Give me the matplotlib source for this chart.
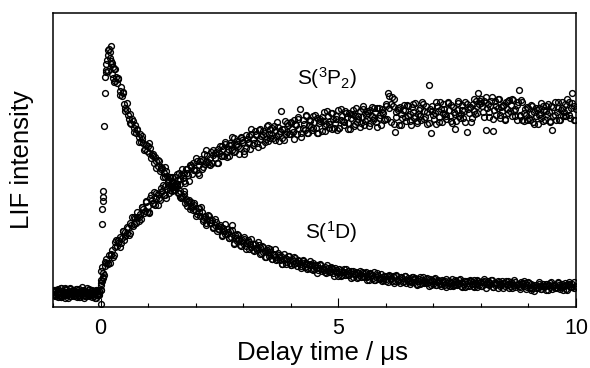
import numpy as np
import matplotlib.pyplot as plt

plt.rcParams['font.family'] = ['Liberation Sans', 'DejaVu Sans']
plt.rcParams['mathtext.fontset'] = 'custom'
plt.rcParams['mathtext.rm'] = 'Liberation Sans'
plt.rcParams['mathtext.default'] = 'regular'

# delay time grid in microseconds (-1 ... 10, step 0.025)
t = np.round(np.arange(441) * 0.025 - 1.0, 3)
# second scan, shifted by half a step (-0.9875 ... 9.9625, step 0.05)
t2 = np.round(np.arange(220) * 0.05 - 0.9875, 4)

# LIF signal of S(1D), arbitrary units
s1d = [
    15, 12, 17, 13, 10, 16, 14, 19, 11, 13, 15, 18, 12, 9, 14, 16, 13, 17, 11, 15,
    14, 12, 18, 10, 13, 16, 15, 11, 14, 19, 12, 13, 16, 10, 15, 14, 17, 12, 13, 16,
    17, 83, 106, 181, 230, 243, 252, 258, 249, 261, 244, 238, 238, 230, 224, 228, 216, 220, 211, 214,
    203, 199, 204, 192, 188, 193, 183, 186, 179, 182, 174, 177, 170, 173, 165, 168, 164, 158, 162, 156,
    161, 154, 159, 152, 151, 144, 150, 146, 141, 146, 136, 138, 139, 134, 130, 136, 131, 125, 130, 120,
    124, 124, 117, 120, 123, 114, 114, 116, 109, 111, 113, 104, 108, 105, 106, 98, 105, 101, 97, 102,
    96, 93, 99, 95, 91, 95, 86, 90, 91, 84, 88, 91, 84, 84, 87, 80, 82, 85, 76, 81,
    78, 80, 72, 79, 76, 73, 78, 75, 69, 76, 70, 82, 64, 72, 69, 66, 72, 62, 66, 67,
    64, 68, 61, 64, 67, 58, 63, 60, 63, 56, 63, 59, 57, 62, 60, 54, 61, 55, 56, 50,
    57, 55, 51, 58, 48, 52, 53, 50, 47, 54, 50, 47, 51, 43, 47, 49, 43, 48, 51, 44,
    42, 48, 46, 43, 49, 41, 44, 46, 43, 41, 46, 44, 40, 44, 38, 42, 43, 38, 42, 44,
    38, 39, 42, 37, 39, 42, 36, 39, 37, 40, 34, 39, 37, 35, 40, 38, 34, 39, 35, 35,
    31, 35, 37, 32, 35, 38, 32, 33, 36, 32, 34, 36, 30, 34, 32, 35, 29, 34, 32, 30,
    35, 34, 30, 35, 30, 31, 27, 33, 32, 29, 35, 27, 30, 32, 29, 28, 33, 30, 27, 31,
    28, 31, 25, 31, 29, 26, 31, 30, 26, 31, 27, 28, 24, 30, 29, 26, 31, 24, 27, 29,
    26, 25, 30, 28, 25, 29, 22, 26, 28, 23, 27, 30, 24, 25, 28, 24, 25, 28, 22, 26,
    23, 29, 22, 25, 27, 24, 23, 27, 25, 22, 26, 20, 24, 26, 21, 25, 28, 22, 23, 26,
    22, 24, 27, 21, 25, 23, 26, 20, 26, 24, 21, 27, 26, 21, 27, 23, 24, 20, 26, 25,
    25, 21, 25, 28, 23, 23, 26, 22, 24, 27, 20, 24, 22, 24, 19, 25, 23, 22, 26, 24,
    21, 26, 22, 23, 19, 25, 24, 22, 27, 20, 22, 23, 21, 20, 25, 23, 21, 24, 18, 22,
    25, 19, 23, 19, 21, 16, 22, 20, 19, 23, 21, 18, 23, 20, 21, 17, 23, 22, 20, 25,
    18, 21, 22, 20, 19, 24, 22, 20, 23, 17, 21, 22, 18, 22, 25, 20, 20, 23, 19, 21,
    21]

s1d_2 = [
    17, 11, 14, 19, 12, 9, 15, 18, 13, 16, 10, 14, 20, 12, 15, 11, 17, 13, 9, 16,
    22, 110, 235, 257, 246, 240, 226, 229, 212, 215, 196, 197, 184, 188, 175, 178, 165, 171, 157, 162,
    164, 149, 153, 139, 147, 140, 130, 140, 126, 130, 116, 122, 123, 110, 110, 116, 101, 107, 100, 104,
    91, 99, 100, 88, 82, 92, 87, 79, 88, 78, 82, 71, 83, 73, 69, 77, 63, 73, 68, 61,
    70, 58, 65, 68, 57, 59, 65, 53, 60, 50, 59, 55, 48, 58, 48, 52, 43, 53, 45, 51,
    42, 50, 44, 47, 39, 47, 43, 39, 46, 37, 42, 34, 43, 38, 35, 42, 35, 39, 31, 37,
    38, 31, 35, 38, 32, 29, 36, 33, 30, 36, 31, 34, 27, 34, 32, 27, 34, 28, 26, 31,
    26, 32, 28, 24, 32, 26, 30, 25, 31, 26, 23, 30, 28, 23, 30, 24, 26, 29, 21, 27,
    28, 22, 26, 21, 26, 28, 22, 24, 21, 27, 23, 28, 20, 26, 21, 26, 23, 20, 27, 22,
    21, 26, 19, 24, 27, 20, 23, 26, 21, 19, 24, 26, 21, 19, 25, 22, 18, 24, 26, 20,
    24, 17, 22, 19, 25, 18, 21, 23, 17, 24, 22, 19, 25, 18, 21, 24, 17, 23, 20, 25]

# LIF signal of S(3P2)
s3p = [
    13, 16, 11, 14, 18, 12, 15, 10, 16, 14, 12, 17, 15, 13, 19, 11, 14, 16, 12, 18,
    13, 15, 10, 16, 14, 17, 12, 15, 11, 13, 18, 14, 12, 16, 13, 9, 15, 17, 14, 12,
    17, 26, 29, 32, 45, 44, 44, 52, 44, 52, 57, 52, 60, 67, 61, 64, 70, 64, 69, 76,
    67, 75, 74, 79, 72, 84, 82, 81, 90, 89, 84, 95, 90, 93, 88, 100, 98, 96, 105, 95,
    101, 94, 109, 107, 103, 115, 102, 109, 113, 109, 107, 119, 116, 112, 121, 109, 118, 122, 114, 123,
    130, 120, 122, 130, 121, 127, 134, 123, 132, 129, 134, 124, 138, 134, 132, 142, 140, 133, 144, 137,
    137, 146, 134, 142, 146, 138, 147, 153, 143, 145, 152, 143, 149, 155, 144, 152, 149, 155, 144, 158,
    154, 151, 161, 158, 151, 163, 155, 158, 151, 164, 162, 157, 169, 156, 162, 166, 161, 159, 170, 167,
    165, 153, 159, 168, 164, 171, 158, 173, 168, 164, 176, 173, 164, 177, 168, 171, 162, 176, 174, 168,
    181, 166, 173, 178, 172, 169, 181, 177, 171, 180, 166, 176, 196, 169, 178, 186, 173, 175, 182, 173,
    184, 178, 175, 187, 183, 173, 188, 178, 198, 170, 187, 183, 177, 191, 174, 182, 186, 180, 177, 191,
    185, 179, 189, 174, 184, 188, 176, 186, 195, 181, 183, 191, 179, 186, 194, 178, 188, 184, 191, 177,
    197, 179, 187, 191, 186, 182, 196, 190, 184, 194, 178, 189, 193, 181, 191, 199, 185, 188, 196, 184,
    190, 198, 182, 192, 188, 194, 181, 197, 191, 187, 199, 195, 185, 199, 189, 192, 182, 198, 194, 188,
    203, 188, 214, 199, 185, 210, 201, 183, 175, 190, 197, 182, 200, 193, 189, 202, 197, 186, 202, 191,
    193, 182, 200, 195, 189, 204, 184, 193, 197, 191, 187, 203, 196, 190, 201, 183, 222, 198, 174, 196,
    192, 194, 183, 201, 196, 190, 205, 185, 194, 198, 193, 188, 204, 197, 191, 202, 184, 195, 178, 186,
    197, 206, 191, 193, 202, 189, 196, 205, 175, 198, 194, 200, 185, 203, 196, 193, 206, 201, 214, 206,
    208, 201, 195, 206, 177, 199, 203, 190, 201, 210, 176, 197, 206, 192, 199, 208, 189, 200, 196, 202,
    187, 205, 198, 194, 207, 202, 191, 207, 196, 198, 187, 205, 217, 192, 207, 187, 194, 198, 192, 187,
    199, 187, 193, 201, 185, 195, 191, 197, 183, 199, 193, 189, 201, 197, 187, 201, 193, 195, 185, 201,
    177, 191, 205, 187, 195, 199, 187, 197, 205, 191, 195, 203, 191, 197, 205, 189, 199, 214, 201, 187,
    198]

s3p_2 = [
    12, 17, 15, 10, 14, 19, 13, 11, 16, 14, 18, 12, 15, 9, 13, 17, 14, 11, 16, 13,
    24, 30, 48, 43, 53, 50, 65, 67, 60, 76, 71, 80, 74, 90, 83, 90, 86, 100, 94, 106,
    95, 112, 104, 114, 102, 115, 122, 112, 128, 117, 126, 117, 133, 128, 138, 126, 138, 126, 142, 137,
    149, 132, 148, 140, 157, 145, 142, 157, 154, 144, 161, 151, 165, 150, 162, 170, 155, 163, 153, 169,
    156, 172, 165, 178, 162, 172, 160, 178, 172, 165, 182, 169, 179, 167, 185, 173, 178, 167, 184, 173,
    185, 168, 182, 190, 174, 179, 192, 174, 187, 179, 192, 174, 186, 190, 176, 196, 183, 194, 179, 188,
    179, 198, 185, 194, 178, 193, 197, 183, 191, 180, 201, 186, 196, 184, 200, 189, 180, 199, 195, 187,
    201, 211, 203, 208, 195, 199, 182, 197, 190, 201, 186, 203, 191, 186, 199, 205, 188, 195, 184, 201,
    188, 205, 185, 198, 203, 191, 205, 186, 200, 193, 204, 189, 197, 185, 203, 200, 189, 208, 194, 203,
    204, 190, 210, 195, 206, 188, 201, 208, 192, 201, 188, 206, 196, 208, 191, 202, 191, 205, 186, 200,
    189, 202, 183, 199, 192, 204, 186, 196, 203, 186, 200, 192, 205, 187, 199, 191, 208, 192, 204, 187]

# extra shots around the photolysis pulse
s1d_extra_t = [0.0, 0.04, 0.045, 0.085, 0.11, 0.135, 0.16, 0.19, 0.21, 0.24, 0.265, 0.29]
s1d_extra_y = [3, 98, 116, 214, 237, 247, 236, 255, 243, 233, 229, 225]
s3p_extra_t = [0.005, 0.015, 0.035, 0.06, 0.09]
s3p_extra_y = [27, 36, 40, 34, 41]

fig = plt.figure(figsize=(5.9, 3.68), dpi=100)
ax = fig.add_axes([0.0898, 0.1658, 0.8864, 0.7989])

mk = dict(ls='none', marker='o', ms=4.2, mfc='none', mec='black', mew=1.0)
ax.plot(t, s1d, **mk)
ax.plot(t2, s1d_2, **mk)
ax.plot(s1d_extra_t, s1d_extra_y, **mk)
ax.plot(t, s3p, **mk)
ax.plot(t2, s3p_2, **mk)
ax.plot(s3p_extra_t, s3p_extra_y, **mk)

ax.text(4.14, 222, 'S($^3$P$_2$)', fontsize=15)
ax.text(4.3, 68, 'S($^1$D)', fontsize=15)

ax.set_xlim(-1, 10)
ax.set_ylim(0, 294)
ax.set_xticks([0, 5, 10])
ax.set_xticks(range(-1, 11), minor=True)
ax.set_yticks([])
ax.tick_params(axis='x', which='major', direction='in', length=6.5, width=0.8,
               labelsize=15.5, pad=8)
ax.tick_params(axis='x', which='minor', direction='in', length=3.2, width=0.8)
for s in ax.spines.values():
    s.set_linewidth(1.1)

ax.set_xlabel('Delay time / μs', fontsize=18.5, labelpad=3)
ax.set_ylabel('LIF intensity', fontsize=18.5, labelpad=14)
ax.xaxis.set_label_coords(0.515, -0.115)

fig.savefig('out.png', dpi=100)
